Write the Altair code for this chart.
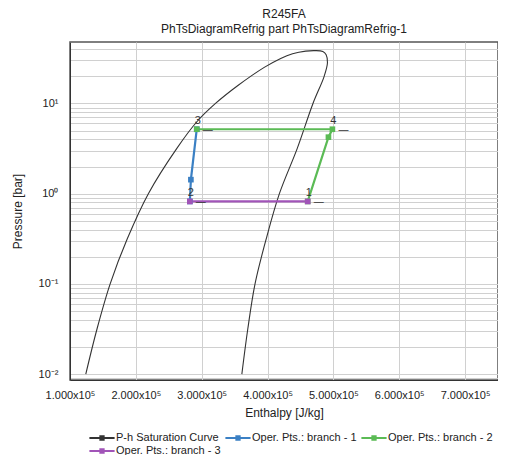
import altair as alt
import pandas as pd

# Saturation curve: liquid branch (upwards) then vapour branch (downwards)
sat_h = [1.24e5, 1.41e5, 1.61e5, 1.87e5, 2.19e5, 2.62e5, 2.93e5, 3.21e5, 3.55e5,
         3.95e5, 4.20e5, 4.38e5, 4.58e5, 4.72e5, 4.84e5, 4.89e5, 4.91e5, 4.86e5,
         4.69e5, 4.45e5, 4.18e5, 3.98e5, 3.81e5, 3.70e5, 3.61e5]
sat_p = [0.01, 0.0316, 0.1, 0.316, 1.0, 3.16, 6.31, 10.0, 15.8,
         25.1, 31.6, 35.5, 38.0, 38.5, 37.6, 34.7, 28.2, 20.0,
         10.0, 3.16, 1.0, 0.316, 0.1, 0.0316, 0.01]

series_names = ["P-h Saturation Curve", "Oper. Pts.: branch - 1",
                "Oper. Pts.: branch - 2", "Oper. Pts.: branch - 3"]
series_colors = ["#333333", "#3b80c4", "#5bbb55", "#a154b8"]

b1_h = [2.82e5, 2.836e5, 2.925e5]
b1_p = [0.82, 1.43, 5.18]
b2_h = [4.61e5, 4.925e5, 4.985e5, 2.925e5]
b2_p = [0.82, 4.23, 5.18, 5.18]
b3_h = [2.82e5, 4.61e5]
b3_p = [0.82, 0.82]

state_labels = ["1", "2", "3", "4"]
state_h = [4.61e5, 2.82e5, 2.925e5, 4.985e5]
state_p = [0.82, 0.82, 5.18, 5.18]

x_ticks = [1e5, 2e5, 3e5, 4e5, 5e5, 6e5, 7e5]
y_grid = [m * 10.0 ** d for d in [-3, -2, -1, 0, 1] for m in range(1, 10)]
y_grid = [v for v in y_grid if 0.0086 <= v <= 48]

sat_df = pd.DataFrame({"h": sat_h, "p": sat_p, "o": list(range(len(sat_h))),
                       "s": series_names[0]})
rows = []
for name, hs, ps in [(series_names[1], b1_h, b1_p), (series_names[2], b2_h, b2_p),
                     (series_names[3], b3_h, b3_p)]:
    for i, (h, p) in enumerate(zip(hs, ps)):
        rows.append({"h": h, "p": p, "o": i, "s": name})
ops_df = pd.DataFrame(rows)
lab_df = pd.DataFrame({"h": state_h, "p": state_p, "t": state_labels})

y_label_expr = (
    "datum.value > 9.99 && datum.value < 10.01 ? '10¹' : "
    "datum.value > 0.999 && datum.value < 1.001 ? '10⁰' : "
    "datum.value > 0.0999 && datum.value < 0.1001 ? '10⁻¹' : "
    "datum.value > 0.00999 && datum.value < 0.01001 ? '10⁻²' : ''"
)

x_enc = alt.X("h:Q", scale=alt.Scale(domain=[1e5, 7.5e5], nice=False, zero=False),
              axis=alt.Axis(title="Enthalpy [J/kg]", values=x_ticks, grid=True,
                            labelExpr="format(datum.value/100000, '.3f') + 'x10⁵'",
                            ticks=False, labelPadding=9, titlePadding=7,
                            labelOverlap=False, labelFlush=False))
y_enc = alt.Y("p:Q", scale=alt.Scale(type="log", domain=[0.0086, 48], nice=False),
              axis=alt.Axis(title="Pressure [bar]", values=y_grid, labelExpr=y_label_expr,
                            grid=True, ticks=False, labelPadding=12, titlePadding=14,
                            labelOverlap=False))
color_enc = alt.Color("s:N", scale=alt.Scale(domain=series_names, range=series_colors),
                      legend=alt.Legend(title=None, orient="none", legendX=24, legendY=388,
                                        direction="horizontal", columns=3, gridAlign="none",
                                        symbolType="M-1.8,0H1.8M-0.25,-0.25H0.25V0.25H-0.25Z",
                                        symbolSize=196,
                                        symbolStrokeWidth=1.8, labelFontSize=11,
                                        columnPadding=0, rowPadding=-1, labelOffset=6))

sat = alt.Chart(sat_df).mark_line(strokeWidth=1.1, interpolate="catmull-rom").encode(
    x=x_enc, y=y_enc, color=color_enc, order="o:Q")
ops = alt.Chart(ops_df).mark_line(strokeWidth=2.2).encode(
    x="h:Q", y="p:Q", color=alt.Color("s:N"), order="o:Q")
pts = alt.Chart(ops_df).mark_square(size=32, opacity=1).encode(
    x="h:Q", y="p:Q", color=alt.Color("s:N"))
labs = alt.Chart(lab_df).mark_text(fontSize=11, dx=1, dy=-8, color="#333").encode(
    x="h:Q", y="p:Q", text="t:N")
dashes = alt.Chart(lab_df).mark_text(fontSize=10, dx=11, dy=1, color="#333").encode(
    x="h:Q", y="p:Q", text=alt.value("—"))

chart = alt.layer(sat, ops, pts, labs, dashes).properties(
    width=428, height=338,
    autosize=alt.AutoSizeParams(type="none"),
    padding={"left": 62, "top": 34, "right": 0, "bottom": 75},
    title=alt.TitleParams(text="R245FA",
                          subtitle="PhTsDiagramRefrig part PhTsDiagramRefrig-1",
                          fontSize=12, subtitleFontSize=12, fontWeight="normal",
                          color="#222", subtitleColor="#222", anchor="middle",
                          offset=6, subtitlePadding=3, font="Liberation Sans",
                          subtitleFont="Liberation Sans"),
).configure_view(stroke="#555", strokeWidth=1.5).configure_axis(
    gridColor="#d0d0d0", gridWidth=1, gridOpacity=1, domainColor="#333",
    labelFont="Liberation Sans", titleFont="Liberation Sans", labelFontSize=11,
    titleFontSize=12, titleFontWeight="normal", labelColor="#222", titleColor="#222"
).configure_legend(labelFont="Liberation Sans", labelColor="#222")

chart.save("out.html", embed_options={"renderer": "svg", "actions": False})
